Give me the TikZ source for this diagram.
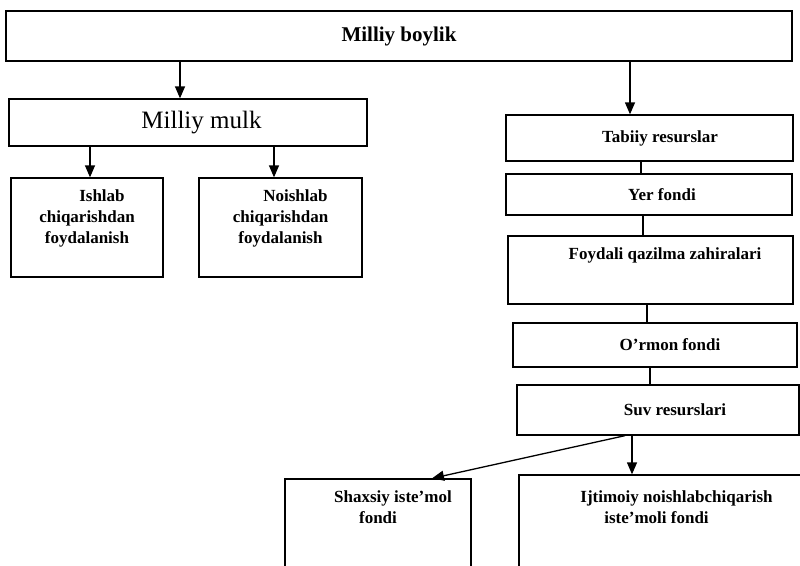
\documentclass[tikz,border=0pt]{standalone}
\usepackage{fontspec}
\setmainfont{Liberation Serif}
\usetikzlibrary{arrows.meta,positioning}

\begin{document}
\begin{tikzpicture}[x=1pt,y=-1pt,
    box/.style={draw, line width=1.3pt, inner sep=0pt, align=center,
      font=\bfseries\fontsize{17}{21}\selectfont},
    lbl/.style={inner sep=0pt, align=center, font=\bfseries\fontsize{17}{21}\selectfont},
    arr/.style={line width=1.3pt, -{Triangle[width=10pt,length=12pt]}},
    link/.style={line width=1.3pt}]
  \useasboundingbox (0,0) rectangle (800,565);

  % top level
  \node[box, minimum width=786pt, minimum height=50pt,
        font=\bfseries\fontsize{21}{25}\selectfont] (boylik) at (399,36) {Milliy boylik};

  % left branch
  \node[box, minimum width=358pt, minimum height=47pt,
        font=\fontsize{25}{30}\selectfont] (mulk) at (188,122.5) {\hspace*{27pt}Milliy mulk};
  \node[box, minimum width=152pt, minimum height=99pt] (ishlab) at (87,227.5) {};
  \node[lbl] (ishlabtxt) at (87,218) {\hspace*{30pt}Ishlab\\chiqarishdan\\foydalanish};
  \node[box, minimum width=163pt, minimum height=99pt] (noishlab) at (280.5,227.5) {};
  \node[lbl] (noishlabtxt) at (280.5,218) {\hspace*{30pt}Noishlab\\chiqarishdan\\foydalanish};

  % right branch, the resources column
  \node[box, minimum width=287pt, minimum height=46pt] (tabiiy) at (649.5,138) {\hspace*{21pt}Tabiiy resurslar};
  \node[box, minimum width=286pt, minimum height=41pt] (yer) at (649,194.5) {\hspace*{26pt}Yer fondi};
  \node[box, minimum width=285pt, minimum height=68pt] (foydali) at (650.5,270) {};
  \node[lbl] (foydalitxt) at (665,255) {Foydali qazilma zahiralari};
  \node[box, minimum width=284pt, minimum height=44pt] (ormon) at (655,345) {\hspace*{30pt}O’rmon fondi};
  \node[box, minimum width=282pt, minimum height=50pt] (suv) at (658,410) {\hspace*{34pt}Suv resurslari};

  % bottom funds (cut by the page edge)
  \node[box, minimum width=186pt, minimum height=141pt] (shaxsiy) at (378,549.5) {};
  \node[lbl] (shaxsiytxt) at (378,507) {\hspace*{30pt}Shaxsiy iste’mol\\fondi};
  \node[box, minimum width=291pt, minimum height=145pt] (ijtimoiy) at (664.5,547.5) {};
  \node[lbl] (ijtimoiytxt) at (656.5,507) {\hspace*{40pt}Ijtimoiy noishlabchiqarish\\iste’moli fondi};

  % arrows
  \draw[arr] (boylik.south -| 180,0) -- (mulk.north -| 180,0);
  \draw[arr] (boylik.south -| 630,0) -- (tabiiy.north -| 630,0);
  \draw[arr] (mulk.south -| 90,0) -- (ishlab.north -| 90,0);
  \draw[arr] (mulk.south -| 274,0) -- (noishlab.north -| 274,0);

  % plain links down the column
  \draw[link] (tabiiy.south -| 641,0) -- (yer.north -| 641,0);
  \draw[link] (yer.south -| 643,0) -- (foydali.north -| 643,0);
  \draw[link] (foydali.south -| 647,0) -- (ormon.north -| 647,0);
  \draw[link] (ormon.south -| 650,0) -- (suv.north -| 650,0);

  \draw[arr] (suv.south -| 632,0) -- (ijtimoiy.north -| 632,0);
  \draw[arr] (suv.south -| 625,0) -- (shaxsiy.north -| 432,0);
\end{tikzpicture}
\end{document}
